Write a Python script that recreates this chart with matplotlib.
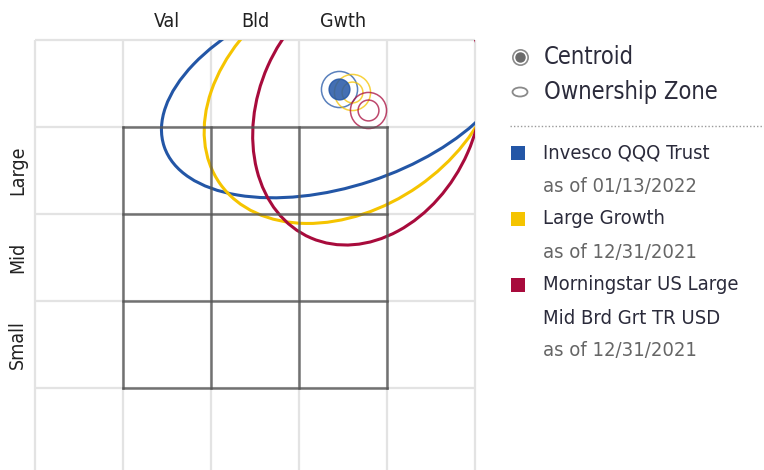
import matplotlib
matplotlib.use("Agg")
import matplotlib.pyplot as plt
from matplotlib.patches import Ellipse, Rectangle

plt.rcParams['font.family'] = ['DejaVu Sans']
plt.rcParams['font.stretch'] = 'condensed'

# style box labels
col_labels = ["Val", "Bld", "Gwth"]
row_labels = ["Large", "Mid", "Small"]

# series (cell units: x = value->growth, y = large->small, from top-left of grid)
names = ["Invesco QQQ Trust", "Large Growth", "Morningstar US Large\nMid Brd Grt TR USD"]
dates = ["as of 01/13/2022", "as of 12/31/2021", "as of 12/31/2021"]
colors = ["#2356a6", "#f5c400", "#a80b3c"]
centroid_x = [3.46, 3.60, 3.78]
centroid_y = [0.56, 0.60, 0.80]
zone_width = [4.20, 3.66, 3.22]     # full major axis
zone_height = [2.24, 2.64, 2.48]    # full minor axis
zone_angle = [-18.5, -35.2, -66.4]  # degrees (y axis points down)

fig = plt.figure(figsize=(7.64, 4.70), dpi=100)
ax = fig.add_axes([0, 0, 490 / 764, 1])
# pixel mapping: px = 35 + 88*x, py = 40 + 87*y
ax.set_xlim(-35 / 88, 455 / 88)
ax.set_ylim(430 / 87, -40 / 87)
ax.axis("off")

# light outer grid
for i in range(6):
    ax.plot([i, i], [0, 5], color="#e3e3e3", lw=1.6, zorder=1, solid_capstyle="butt")
for j in range(5):
    ax.plot([0, 5], [j, j], color="#e3e3e3", lw=1.6, zorder=1, solid_capstyle="butt")

clip = Rectangle((0, 0), 5, 5, transform=ax.transData, fill=False, visible=False)
ax.add_patch(clip)

# ownership zones
for cx, cy, w, h, ang, c in zip(centroid_x, centroid_y, zone_width, zone_height, zone_angle, colors):
    e = Ellipse((cx, cy), w, h, angle=ang, fill=False, edgecolor=c, lw=2.2, zorder=3)
    ax.add_patch(e)
    e.set_clip_path(clip)

# centroids
for k, (cx, cy, c) in enumerate(zip(centroid_x, centroid_y, colors)):
    ax.plot(cx, cy, marker="o", ms=26, mfc="none", mec=c, mew=1.1, alpha=0.75, zorder=4)
    if k == 0:
        ax.plot(cx, cy, marker="o", ms=15, mfc=c, mec=c, mew=1.0, alpha=0.85, zorder=5)
    else:
        ax.plot(cx, cy, marker="o", ms=15, mfc="none", mec=c, mew=1.1, alpha=0.75, zorder=4)

# dark 3x3 style box
for i in range(1, 5):
    ax.plot([i, i], [1, 4], color="#555555", lw=1.8, alpha=0.8, zorder=6, solid_capstyle="projecting")
    ax.plot([1, 4], [i, i], color="#555555", lw=1.8, alpha=0.8, zorder=6, solid_capstyle="projecting")

for i, lab in enumerate(col_labels):
    ax.text(1.5 + i, -0.21, lab, ha="center", va="center", fontsize=14, color="#222222")
for i, lab in enumerate(row_labels):
    ax.text(-0.195, 1.5 + i, lab, ha="center", va="center", rotation=90, fontsize=14, color="#222222")

# legend overlay in pixel units
lax = fig.add_axes([0, 0, 1, 1])
lax.set_xlim(0, 764)
lax.set_ylim(470, 0)
lax.axis("off")

lax.plot(520, 57, marker="o", ms=11, mfc="none", mec="#8a8a8a", mew=1.2)
lax.plot(520, 57, marker="o", ms=6.5, mfc="#6a6a6a", mec="#6a6a6a")
lax.add_patch(Ellipse((520, 92), 15, 9, fill=False, edgecolor="#8a8a8a", lw=1.3))
lax.text(544, 57, "Centroid", fontsize=17, va="center", color="#2b2b3b")
lax.text(544, 92, "Ownership Zone", fontsize=17, va="center", color="#2b2b3b")
lax.plot([510, 764], [126, 126], color="#9a9a9a", lw=1.0, ls=(0, (1, 1.5)))

y = 153
for name, date, c in zip(names, dates, colors):
    lax.add_patch(Rectangle((511, y - 7), 14, 14, facecolor=c, edgecolor="none"))
    for line in name.split("\n"):
        lax.text(543, y, line, fontsize=14.5, va="center", color="#2b2b3b")
        y += 33
    lax.text(543, y, date, fontsize=14.5, va="center", color="#666666")
    y += 33

fig.savefig("out.png", dpi=100)
